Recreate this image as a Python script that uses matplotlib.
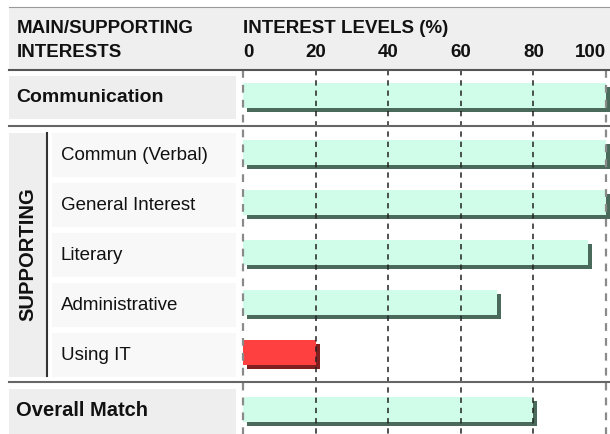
import matplotlib

matplotlib.use("Agg")
import matplotlib.pyplot as plt
import matplotlib.patheffects as pe
from matplotlib.patches import Rectangle

plt.rcParams["font.family"] = ["Liberation Sans", "DejaVu Sans"]

# data
main_label = "Communication"
main_value = 100
supporting_labels = ["Commun (Verbal)", "General Interest", "Literary",
                     "Administrative", "Using IT"]
supporting_values = [100, 100, 95, 70, 20]
overall_label = "Overall Match"
overall_value = 80
tick_values = [0, 20, 40, 60, 80, 100]

W, H = 610, 434
X0, X1 = 243, 606  # pixel span of the 0..100 scale

MINT, MINT_SHADOW = "#d0fde9", "#4a6a5c"
RED, RED_SHADOW = "#ff4040", "#7f1f1f"


def bar_colors(v):
    if v <= 25:
        return RED, RED_SHADOW
    return MINT, MINT_SHADOW


fig = plt.figure(figsize=(W / 100, H / 100), dpi=100)

# background layer in pixel coordinates
bg = fig.add_axes([0, 0, 1, 1], zorder=0)
bg.set_xlim(0, W)
bg.set_ylim(H, 0)
bg.axis("off")

bg.add_patch(Rectangle((9, 7), W - 9, 63, color="#efefef", lw=0))
bg.add_patch(Rectangle((9, 76), 227, 43, color="#eeeeee", lw=0))
bg.add_patch(Rectangle((9, 133), 38, 244, color="#eeeeee", lw=0))
bg.add_patch(Rectangle((9, 389), 227, 50, color="#eeeeee", lw=0))

sup_y = [155 + 50 * i for i in range(len(supporting_labels))]
for yc, lab in zip(sup_y, supporting_labels):
    bg.add_patch(Rectangle((52, yc - 22), 184, 44, color="#f8f8f8", lw=0))
    bg.text(61, yc + 1, lab, fontsize=13.5, va="center", ha="left", color="#111")

bg.text(17, 33, "MAIN/SUPPORTING", fontsize=13.5, fontweight="bold", color="#111")
bg.text(17, 57, "INTERESTS", fontsize=13.5, fontweight="bold", color="#111")
bg.text(243, 33, "INTEREST LEVELS (%)", fontsize=13.5, fontweight="bold", color="#111")

bg.text(16, 98, main_label, fontsize=14, fontweight="bold", va="center", color="#111")
bg.text(16, 411, overall_label, fontsize=14.5, fontweight="bold", va="center", color="#111")
bg.text(28, 254, "SUPPORTING", fontsize=14.5, fontweight="bold", rotation=90,
        ha="center", va="center", color="#111")
bg.plot([47, 47], [133, 376], color="#333", lw=1.5)

# bar layer: x in percent, y in pixels from top
ax = fig.add_axes([X0 / W, 0, (X1 - X0) / W, 1], zorder=1)
ax.set_xlim(0, 100)
ax.set_ylim(H, 0)
ax.axis("off")
ax.patch.set_alpha(0)

for t in tick_values:
    edge = t in (tick_values[0], tick_values[-1])
    ax.vlines(t, 70, H, colors="#8a8a8a" if edge else "#222",
              lw=1.6 if edge else 1.1, linestyles=(0, (3.5, 3.2)), clip_on=False)
    ha = "left" if t == tick_values[0] else ("right" if t == tick_values[-1] else "center")
    ax.text(t, 57, str(t), ha=ha, fontsize=13.5, fontweight="bold", color="#111")

rows_y = [97.5] + sup_y + [411.5]
values = [main_value] + supporting_values + [overall_value]
for yc, v in zip(rows_y, values):
    face, shade = bar_colors(v)
    ax.barh(yc - 2.5, v, height=25, color=face, lw=0, clip_on=False,
            path_effects=[pe.SimplePatchShadow(offset=(2.9, -2.9),
                                               shadow_rgbFace=shade, alpha=1),
                          pe.Normal()])

# rules on top
top = fig.add_axes([0, 0, 1, 1], zorder=2)
top.set_xlim(0, W)
top.set_ylim(H, 0)
top.axis("off")
top.patch.set_alpha(0)
top.plot([9, W], [7, 7], color="#9a9a9a", lw=0.8)
top.plot([9, W], [70, 70], color="#555", lw=1.5)
top.plot([9, W], [126, 126], color="#666", lw=1.5)
top.plot([9, W], [382, 382], color="#666", lw=1.5)

fig.savefig("out.png", dpi=100)
plt.close(fig)
